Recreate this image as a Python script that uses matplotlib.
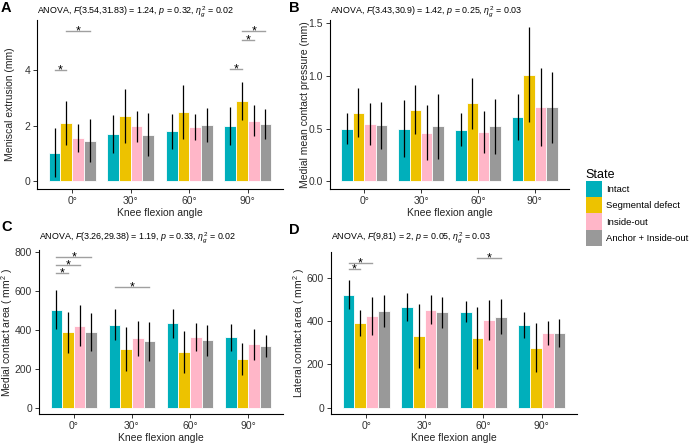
import numpy as np
import matplotlib
matplotlib.use("Agg")
import matplotlib.pyplot as plt
from matplotlib.patches import Patch

plt.rcParams["font.family"] = ["Liberation Sans", "DejaVu Sans"]
plt.rcParams["mathtext.fontset"] = "custom"
plt.rcParams["mathtext.rm"] = "Liberation Sans"
plt.rcParams["mathtext.it"] = "Liberation Sans:italic"

angles = ["0°", "30°", "60°", "90°"]
states = ["Intact", "Segmental defect", "Inside-out", "Anchor + Inside-out"]
colors = ["#00AFBB", "#EDC200", "#FFB6C8", "#999999"]

# A: meniscal extrusion (mean, sd) per state
ext_mean = [[1.03, 1.70, 1.80, 2.00], [2.10, 2.33, 2.48, 2.87],
            [1.55, 1.97, 1.96, 2.18], [1.45, 1.68, 2.02, 2.06]]
ext_sd = [[0.87, 0.67, 0.63, 0.68], [0.78, 0.97, 0.97, 0.68],
          [0.50, 0.55, 0.47, 0.55], [0.77, 0.77, 0.62, 0.55]]

# B: medial mean contact pressure
mp_mean = [[0.50, 0.50, 0.49, 0.61], [0.65, 0.68, 0.74, 1.01],
           [0.54, 0.46, 0.47, 0.70], [0.53, 0.52, 0.52, 0.70]]
mp_sd = [[0.15, 0.27, 0.16, 0.22], [0.23, 0.23, 0.24, 0.45],
         [0.20, 0.26, 0.20, 0.37], [0.22, 0.31, 0.26, 0.34]]

# C: medial contact area
mca_mean = [[504, 426, 434, 362], [388, 301, 285, 250],
            [420, 357, 362, 325], [388, 340, 345, 316]]
mca_sd = [[100, 79, 75, 70], [105, 113, 108, 80],
          [106, 90, 72, 80], [99, 98, 82, 58]]

# D: lateral contact area
lca_mean = [[522, 464, 444, 382], [389, 331, 324, 278],
            [423, 453, 405, 345], [447, 440, 420, 345]]
lca_sd = [[68, 65, 49, 58], [60, 146, 143, 112],
          [89, 65, 92, 57], [74, 70, 81, 63]]

# significance brackets: (angle index, state i, state j, height)
ext_sig = [(0, 0, 1, 4.0), (0, 1, 3, 5.37), (3, 0, 1, 4.02), (3, 1, 2, 5.07), (3, 1, 3, 5.39)]
mp_sig = []
mca_sig = [(0, 0, 1, 692), (0, 0, 2, 732), (0, 0, 3, 773), (1, 0, 3, 620)]
lca_sig = [(0, 0, 1, 638), (0, 0, 2, 667), (2, 1, 3, 690)]

# (letter, title, ylabel, means, sds, sigs, ylim, yticks, ticklabels,
#  axes box px [left, top, right, bottom], letter pos px, title y px, ylabel right edge px)
panels = [
    ("A", "ANOVA, $F$(3.54,31.83) = 1.24, $p$ = 0.32, $\\eta_g^2$ = 0.02",
     "Meniscal extrusion (mm)", ext_mean, ext_sd, ext_sig,
     (-0.27, 5.78), [0, 2, 4], ["0", "2", "4"], [37, 20, 283, 189], (1, 8), 12, 15),
    ("B", "ANOVA, $F$(3.43,30.9) = 1.42, $p$ = 0.25, $\\eta_g^2$ = 0.03",
     "Medial mean contact pressure (mm)", mp_mean, mp_sd, mp_sig,
     (-0.074, 1.53), [0, 0.5, 1.0, 1.5], ["0.0", "0.5", "1.0", "1.5"], [330, 20, 569, 189], (289, 8), 12, 310),
    ("C", "ANOVA, $F$(3.26,29.38) = 1.19, $p$ = 0.33, $\\eta_g^2$ = 0.02",
     "Medial contact area ( mm$^2$ )", mca_mean, mca_sd, mca_sig,
     (-33, 810), [0, 200, 400, 600, 800], ["0", "200", "400", "600", "800"], [39, 250, 283, 414], (1, 227), 238, 15),
    ("D", "ANOVA, $F$(9,81) = 2, $p$ = 0.05, $\\eta_g^2$ = 0.03",
     "Lateral contact area ( mm$^2$ )", lca_mean, lca_sd, lca_sig,
     (-28, 718), [0, 200, 400, 600], ["0", "200", "400", "600"], [331, 252, 577, 414], (289, 230), 238, 307),
]

W, H = 690, 443
fig = plt.figure(figsize=(W / 100, H / 100), dpi=100)

x = np.arange(len(angles))
width = 0.2
offsets = (np.arange(4) - 1.5) * width

for letter, title, ylabel, means, sds, sigs, ylim, yticks, yticklabels, box, lpos, ty, ylx in panels:
    l, t, r, b = box
    ax = fig.add_axes([l / W, 1 - b / H, (r - l) / W, (b - t) / H])
    for i in range(4):
        ax.bar(x + offsets[i], means[i], width, color=colors[i],
               edgecolor="white", linewidth=0.6, zorder=2)
        ax.errorbar(x + offsets[i], means[i], yerr=sds[i], fmt="none",
                    ecolor="black", elinewidth=0.9, capsize=0, zorder=3)
    for g, si, sj, h in sigs:
        x0 = g + offsets[si]
        x1 = g + offsets[sj]
        ax.plot([x0, x1], [h, h], color="#a0a0a0", lw=1.0, zorder=3)
        ax.annotate("*", ((x0 + x1) / 2, h), xytext=(0, -2.5), textcoords="offset points",
                    ha="center", va="baseline", fontsize=9)
    ax.set_xlim(-0.6, 3.6)
    ax.set_ylim(*ylim)
    ax.set_xticks(x)
    ax.set_xticklabels(angles)
    ax.set_yticks(yticks)
    ax.set_yticklabels(yticklabels)
    ax.tick_params(labelsize=7.5, length=3, width=0.7, pad=2,
                   colors="#333333", labelcolor="#333333")
    ax.spines["top"].set_visible(False)
    ax.spines["right"].set_visible(False)
    ax.spines["left"].set_linewidth(0.8)
    ax.spines["bottom"].set_linewidth(0.8)
    ax.set_xlabel("Knee flexion angle", fontsize=7.5, color="#222222", labelpad=1.5)
    ax.set_ylabel(ylabel, fontsize=7.5, color="#222222")
    ax.yaxis.set_label_coords((ylx - l) / (r - l), 0.5)
    fig.text(l / W, 1 - ty / H, title, fontsize=6.4, ha="left", va="center")
    fig.text(lpos[0] / W, 1 - lpos[1] / H, letter, fontsize=10.5,
             fontweight="bold", ha="left", va="center")

handles = [Patch(facecolor=c, edgecolor="none") for c in colors]
fig.legend(handles, states, title="State", loc="upper left",
           bbox_to_anchor=(577 / W, 1 - 160 / H), frameon=False,
           fontsize=6.8, title_fontsize=9, handlelength=1.7, handleheight=2.3,
           labelspacing=0.0, handletextpad=0.5, alignment="left")

fig.savefig("out.png", dpi=100)
